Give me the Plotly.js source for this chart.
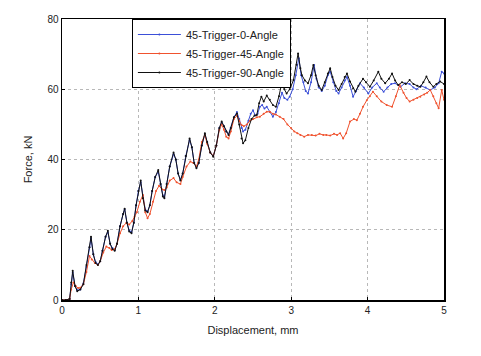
<!DOCTYPE html>
<html>
<head>
<meta charset="utf-8">
<script src="https://cdn.plot.ly/plotly-3.0.1.min.js"></script>
<style>html,body{margin:0;padding:0;background:#fff;}#chart{width:481px;height:356px;}</style>
</head>
<body>
<div id="chart"></div>
<script>
// Black series: 45-Trigger-90-Angle
const x90 = [0,0.05,0.10,0.12,0.14,0.17,0.20,0.24,0.28,0.32,0.36,0.38,0.41,0.44,0.47,0.50,0.53,0.57,0.60,0.63,0.66,0.69,0.72,0.76,0.80,0.82,0.85,0.88,0.91,0.94,0.97,1.00,1.03,1.06,1.09,1.12,1.15,1.18,1.22,1.26,1.29,1.32,1.34,1.37,1.41,1.46,1.49,1.52,1.55,1.58,1.62,1.67,1.70,1.73,1.76,1.79,1.83,1.87,1.90,1.94,1.98,2.02,2.06,2.09,2.12,2.15,2.18,2.21,2.25,2.29,2.32,2.35,2.37,2.40,2.44,2.48,2.52,2.55,2.58,2.61,2.64,2.68,2.72,2.76,2.80,2.84,2.88,2.91,2.94,2.98,3.03,3.07,3.09,3.12,3.14,3.18,3.22,3.26,3.29,3.32,3.36,3.40,3.44,3.48,3.51,3.54,3.58,3.62,3.66,3.70,3.73,3.77,3.81,3.84,3.88,3.94,3.98,4.03,4.08,4.14,4.18,4.23,4.28,4.32,4.36,4.40,4.45,4.50,4.55,4.60,4.65,4.69,4.73,4.77,4.81,4.86,4.90,4.95,5.00];
const y90 = [0,0,0.3,5,8.3,4,2.5,3,4.5,10,15,18,13,10.5,10,11,14,18,19.7,16,14.5,14,16,21,24.5,26,22,19.5,19,22,27,31,34,29,25.5,25,27,31,35,37,33,29.5,29,33,38,42,40,36,34,36,41,46,43.5,39,37.5,39,44,47.5,45,42,40.8,44,49,50.8,49.5,48,47,49,52,53.1,50,46,44.6,45.5,49,51.5,52.5,52.7,56,57.9,56.5,58.2,57,55.5,55,58,62.2,60,58.8,60,62.6,67,70.2,66,64,62.5,61.7,64,66.9,64,61,59.8,62,64.5,66,63.5,61,59.8,61.5,63.5,64.5,62.2,60.3,59.3,61,63,62,60.7,62.5,65,63,61.7,63,64.5,62.5,61.2,62,61.5,62.6,61.5,61,60.7,62,63.6,62,60.7,61.5,62.2,61.5];

// Blue series: 45-Trigger-0-Angle
const x0 = [0,0.05,0.10,0.12,0.14,0.17,0.20,0.24,0.28,0.32,0.36,0.38,0.41,0.44,0.47,0.50,0.53,0.57,0.60,0.63,0.66,0.69,0.72,0.76,0.80,0.82,0.85,0.88,0.91,0.94,0.97,1.00,1.03,1.06,1.09,1.12,1.15,1.18,1.22,1.26,1.29,1.32,1.34,1.37,1.41,1.46,1.49,1.52,1.55,1.58,1.62,1.67,1.70,1.73,1.76,1.79,1.83,1.87,1.90,1.94,1.98,2.02,2.06,2.09,2.12,2.15,2.18,2.21,2.25,2.29,2.32,2.35,2.37,2.40,2.44,2.47,2.50,2.53,2.56,2.59,2.62,2.65,2.68,2.72,2.76,2.80,2.84,2.88,2.91,2.95,2.98,3.02,3.06,3.10,3.13,3.16,3.19,3.22,3.26,3.30,3.33,3.36,3.40,3.44,3.48,3.51,3.55,3.59,3.62,3.66,3.70,3.73,3.77,3.81,3.85,3.90,3.95,4.01,4.06,4.12,4.16,4.21,4.26,4.31,4.36,4.43,4.49,4.55,4.60,4.64,4.70,4.76,4.82,4.88,4.93,4.97,5.00];
const y0 = [0,0,0.3,4.5,7.8,4,2.8,3,4.8,9.5,15,17.5,13,10.8,10.2,11,14,18,19.3,16,14.8,14.2,16,21,24.5,25.8,22,19.8,19.3,22,27,31,33.5,29,25.8,25.2,27,31,35,36.5,33,29.8,29.3,33,38,41.5,40,36,34.2,36,41,45.5,43.5,39,37.8,39,44,47.2,45,42,41,44,49,50.5,49.5,48,47.2,49,52,53.5,51.5,49,48,48.5,51,53,54,52.5,53,55,55.5,54.5,55,53.5,52.2,53.5,56,59,57.5,57,57.9,60,64,68.8,64,62,59.5,58.8,62,66.9,63,60.5,59.5,61,64,65,62,59.5,58.8,60.5,62.5,63.5,61,57.9,59.5,61.7,60.5,58.8,60.5,61.7,60.5,59.3,60.5,61.5,61.7,60.7,61.7,61.5,60.5,60,61,60.5,59.8,60.5,61.7,65,64.5];

// Red series: 45-Trigger-45-Angle
const x45 = [0,0.05,0.10,0.12,0.15,0.18,0.21,0.24,0.28,0.32,0.36,0.39,0.43,0.47,0.50,0.54,0.58,0.62,0.65,0.69,0.72,0.76,0.80,0.84,0.88,0.92,0.95,0.98,1.02,1.06,1.09,1.12,1.15,1.19,1.23,1.27,1.31,1.34,1.37,1.41,1.46,1.50,1.55,1.58,1.63,1.68,1.72,1.76,1.79,1.83,1.87,1.90,1.94,1.98,2.02,2.06,2.09,2.12,2.15,2.18,2.21,2.25,2.29,2.32,2.35,2.38,2.42,2.46,2.50,2.55,2.59,2.64,2.68,2.72,2.76,2.80,2.85,2.90,2.95,3.00,3.04,3.08,3.12,3.17,3.22,3.27,3.32,3.37,3.42,3.46,3.51,3.56,3.60,3.64,3.68,3.72,3.77,3.82,3.86,3.90,3.94,3.99,4.03,4.07,4.12,4.18,4.25,4.32,4.37,4.42,4.47,4.51,4.55,4.60,4.65,4.69,4.74,4.78,4.82,4.86,4.90,4.93,4.97,5.00];
const y45 = [0,0,0.3,3,5,4,3.4,3.5,4.5,8,12.5,11.5,10.5,10,11,13.5,15.2,14.8,14.2,14.5,16,19,21,21.9,21.5,22.5,23.7,25,28,29.9,25,23.3,24.5,28,31,32.5,31.5,31.3,32,34,34.7,33.5,33,35,38,39.4,39,38,40,45,47,44.5,42,41,44,48.5,50,48.5,46.5,46,48,51.5,52.5,51,49.8,49.5,50,51,51.5,52,52.2,53,53.6,53.6,53,52.8,52.2,51.5,50,48.9,48,47.5,47,46.5,47,47,46.8,47.3,47,47,46.8,47.3,47,47.5,46,47.5,50.8,51.5,51.2,53,55,56.9,58,59.3,58,56.5,55.5,55,58,61.2,59,57.5,56.5,57,57.5,57.9,58.5,59,59.8,58,56,54.6,59.8,57];

const names = ['45-Trigger-0-Angle','45-Trigger-45-Angle','45-Trigger-90-Angle'];
const colors = ['#3b4fd8','#f0522e','#111111'];

function tr(x, y, i) {
  return {x: x, y: y, name: names[i], type: 'scatter', mode: 'lines+markers',
    line: {color: colors[i], width: 1}, marker: {color: colors[i], size: 2}};
}

const data = [tr(x0, y0, 0), tr(x45, y45, 1), tr(x90, y90, 2)];

const axisCommon = {
  showline: true, linecolor: '#000', linewidth: 1.5, mirror: true,
  showgrid: true, gridcolor: '#b8b8b8', griddash: 'dot', gridwidth: 1,
  zeroline: false, ticks: 'inside', ticklen: 3, tickcolor: '#000',
  tickfont: {family: 'Liberation Sans, Arial, sans-serif', size: 10, color: '#222'}
};

const layout = {
  width: 481, height: 356,
  margin: {l: 62, r: 37, t: 19, b: 56},
  paper_bgcolor: '#fff', plot_bgcolor: '#fff',
  font: {family: 'Liberation Sans, Arial, sans-serif', size: 11, color: '#222'},
  xaxis: Object.assign({}, axisCommon, {range: [0, 5], dtick: 1,
    title: {text: 'Displacement, mm', font: {size: 11, color: '#222'}, standoff: 12}}),
  yaxis: Object.assign({}, axisCommon, {range: [0, 80], dtick: 20,
    title: {text: 'Force, kN', font: {size: 11, color: '#222'}, standoff: 12}}),
  showlegend: true,
  legend: {x: 0.183, y: 1, xanchor: 'left', yanchor: 'top', bgcolor: '#fff',
    bordercolor: '#000', borderwidth: 1, font: {size: 11, color: '#222'},
    tracegroupgap: 0, itemwidth: 43}
};

Plotly.newPlot('chart', data, layout, {displayModeBar: false, staticPlot: true});
</script>
</body>
</html>
